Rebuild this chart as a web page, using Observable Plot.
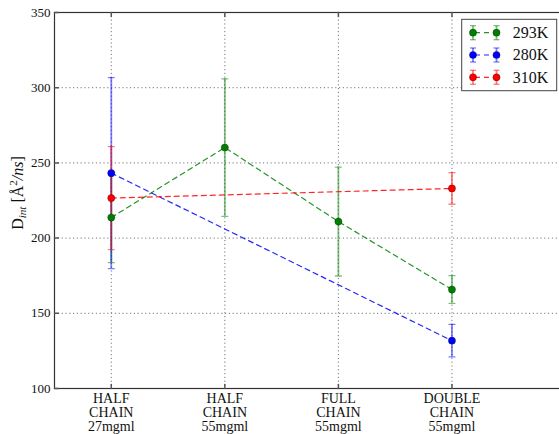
<!DOCTYPE html>
<html><head><meta charset="utf-8">
<script src="https://cdn.jsdelivr.net/npm/d3@7"></script>
<script src="https://cdn.jsdelivr.net/npm/@observablehq/plot@0.6"></script>
<style>
html,body{margin:0;padding:0;background:#fff;overflow:hidden;}
#wrap{position:relative;width:559px;height:434px;overflow:hidden;}
#legend{position:absolute;left:0;top:0;pointer-events:none;}
svg text{font-family:'Liberation Serif','DejaVu Serif','Times New Roman',serif;}
</style></head><body><div id="wrap"></div>
<script>
const categories = ["HALF\nCHAIN\n27mgml", "HALF\nCHAIN\n55mgml", "FULL\nCHAIN\n55mgml", "DOUBLE\nCHAIN\n55mgml"];
const seriesNames = ["293K", "280K", "310K"];
const seriesColors = ["#008000", "#0000ff", "#ff0000"];
const catIndex293 = [0, 1, 2, 3];
const values293 = [213.7, 260.2, 211.0, 165.8];
const errors293 = [30.0, 45.7, 36.2, 9.2];
const catIndex280 = [0, 3];
const values280 = [243.2, 131.8];
const errors280 = [63.5, 10.8];
const catIndex310 = [0, 3];
const values310 = [226.6, 233.0];
const errors310 = [34.2, 10.5];
const yTicks = [100, 150, 200, 250, 300, 350];
const xTicks = [0, 1, 2, 3];

const FONT = "'Liberation Serif','DejaVu Serif','Times New Roman',serif";

const seriesData = [
  {name: "293K", idx: catIndex293, val: values293, err: errors293},
  {name: "280K", idx: catIndex280, val: values280, err: errors280},
  {name: "310K", idx: catIndex310, val: values310, err: errors310}
];
const rows = seriesData.flatMap(s => s.idx.map((x, i) => ({series: s.name, x, y: s.val[i], err: s.err[i]})));
const colorOf = s => seriesColors[seriesNames.indexOf(s)];

const capShape = {draw(ctx, l) { ctx.moveTo(-l / 2, 0); ctx.lineTo(l / 2, 0); }};
const tickShape = {draw(ctx, l) { ctx.moveTo(0, 0); ctx.lineTo(0, -l); }};

const chart = Plot.plot({
  width: 559, height: 434,
  marginLeft: 54, marginTop: 12, marginBottom: 46, marginRight: -6,
  x: {domain: [-0.5, 4]},
  y: {domain: [100, 350]},
  color: {type: "identity"},
  style: {fontFamily: FONT, background: "white", color: "#111", overflow: "visible"},
  marks: [
    Plot.gridY(yTicks, {stroke: "#777", strokeOpacity: 1, strokeDasharray: "1.2,2.6"}),
    Plot.gridX(xTicks, {stroke: "#777", strokeOpacity: 1, strokeDasharray: "1.2,2.6"}),
    Plot.ruleX(rows, {x: "x", y1: d => d.y - d.err, y2: d => d.y + d.err, stroke: d => colorOf(d.series), strokeOpacity: 0.5, strokeWidth: 1.8}),
    Plot.vector(rows, {x: "x", y: d => d.y + d.err, length: 6, anchor: "start", shape: capShape, stroke: d => colorOf(d.series), strokeOpacity: 0.5, strokeWidth: 1.3}),
    Plot.vector(rows, {x: "x", y: d => d.y - d.err, length: 6, anchor: "start", shape: capShape, stroke: d => colorOf(d.series), strokeOpacity: 0.5, strokeWidth: 1.3}),
    Plot.line(rows, {x: "x", y: "y", z: "series", stroke: d => colorOf(d.series), strokeDasharray: "5,4", strokeWidth: 1.2, strokeOpacity: 0.85}),
    Plot.dot(rows, {x: "x", y: "y", r: 3.6, fill: d => colorOf(d.series), stroke: "#000", strokeWidth: 0.5, strokeOpacity: 0.6}),
    Plot.frame({stroke: "#333", strokeWidth: 1.2}),
    Plot.vector(yTicks, {y: d => d, frameAnchor: "left", length: 4, rotate: 90, anchor: "start", shape: tickShape, stroke: "#555"}),
    Plot.vector(xTicks, {x: d => d, frameAnchor: "bottom", length: 4, rotate: 0, anchor: "start", shape: tickShape, stroke: "#555"}),
    Plot.vector(xTicks, {x: d => d, frameAnchor: "top", length: 4, rotate: 180, anchor: "start", shape: tickShape, stroke: "#555"}),
    Plot.axisY(yTicks, {tickSize: 0, tickPadding: 4, fontSize: 13, label: null, fill: "#111", fontFamily: FONT}),
    Plot.axisX(xTicks, {tickSize: 0, tickPadding: 5, tickFormat: i => categories[i], fontSize: 14, lineHeight: 1, label: null, fill: "#111", fontFamily: FONT})
  ]
});
document.getElementById("wrap").appendChild(chart);

// y-axis label with sub/superscripts
const svg = d3.select(chart);
const yl = svg.append("text")
  .attr("transform", "translate(23,193) rotate(-90)")
  .attr("text-anchor", "middle")
  .attr("font-size", 16)
  .style("font-family", FONT)
  .attr("fill", "#111");
yl.append("tspan").text("D");
yl.append("tspan").attr("font-size", 11).attr("font-style", "italic").attr("dy", 3).text("int");
yl.append("tspan").attr("dy", -3).text(" [Å");
yl.append("tspan").attr("font-size", 11).attr("dy", -6).text("2");
yl.append("tspan").attr("dy", 6).attr("font-style", "italic").text("/ns");
yl.append("tspan").text("]");

// legend overlay
const lg = d3.select("#wrap").append("svg").attr("id", "legend").attr("width", 559).attr("height", 434);
lg.append("rect").attr("x", 461.7).attr("y", 19.3).attr("width", 95).attr("height", 71.4)
  .attr("fill", "#fff").attr("stroke", "#444").attr("stroke-width", 1);
const rowY = [32.7, 55, 77.3];
seriesNames.forEach((name, i) => {
  const c = seriesColors[i], y = rowY[i];
  const g = lg.append("g");
  g.append("line").attr("x1", 473).attr("x2", 496.5).attr("y1", y).attr("y2", y)
    .attr("stroke", c).attr("stroke-width", 1.2).attr("stroke-dasharray", "5,4").attr("stroke-dashoffset", -2).attr("stroke-opacity", 0.85);
  [473, 496.5].forEach(x => {
    g.append("line").attr("x1", x).attr("x2", x).attr("y1", y - 7).attr("y2", y + 7).attr("stroke", c).attr("stroke-opacity", 0.5).attr("stroke-width", 1.8);
    g.append("line").attr("x1", x - 3).attr("x2", x + 3).attr("y1", y - 7).attr("y2", y - 7).attr("stroke", c).attr("stroke-opacity", 0.5).attr("stroke-width", 1.3);
    g.append("line").attr("x1", x - 3).attr("x2", x + 3).attr("y1", y + 7).attr("y2", y + 7).attr("stroke", c).attr("stroke-opacity", 0.5).attr("stroke-width", 1.3);
    g.append("circle").attr("cx", x).attr("cy", y).attr("r", 3.6).attr("fill", c).attr("stroke", "#000").attr("stroke-width", 0.5).attr("stroke-opacity", 0.6);
  });
  g.append("text").attr("x", 512.7).attr("y", y + 5.3).attr("font-size", 16).style("font-family", FONT).attr("fill", "#111").text(name);
});
</script></body></html>
